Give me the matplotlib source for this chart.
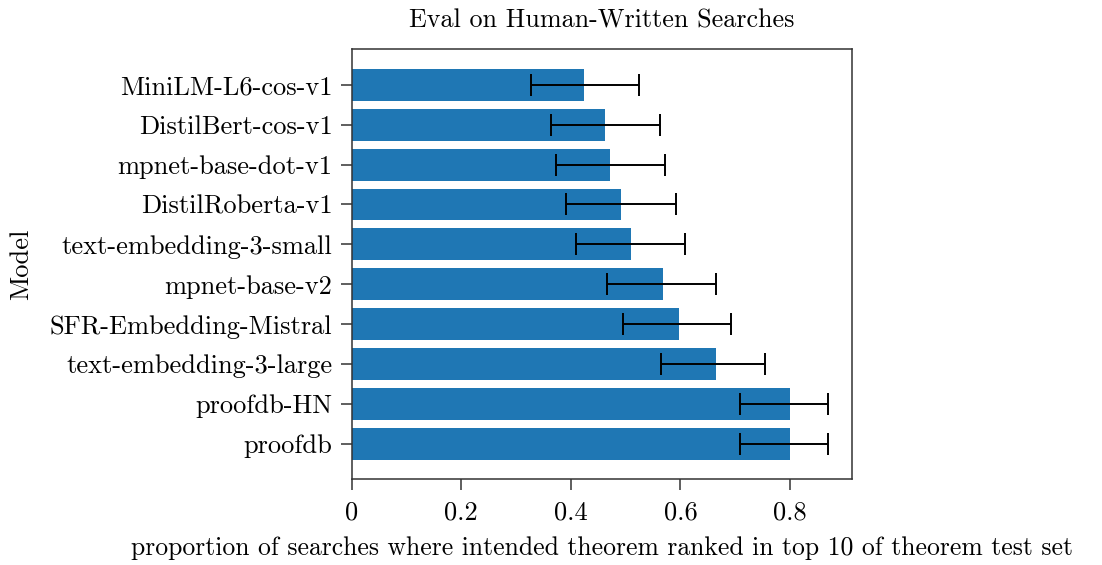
import matplotlib
matplotlib.use("Agg")
import matplotlib.pyplot as plt
import numpy as np
from matplotlib.ticker import FuncFormatter

plt.rcParams['font.family'] = ['cmr10', 'DejaVu Serif']
plt.rcParams['axes.formatter.use_mathtext'] = True
plt.rcParams['mathtext.fontset'] = 'cm'

# bottom to top
models = ['proofdb', 'proofdb-HN', 'text-embedding-3-large', 'SFR-Embedding-Mistral',
          'mpnet-base-v2', 'text-embedding-3-small', 'DistilRoberta-v1',
          'mpnet-base-dot-v1', 'DistilBert-cos-v1', 'MiniLM-L6-cos-v1']
score = [0.800, 0.800, 0.664, 0.597, 0.569, 0.510, 0.491, 0.471, 0.463, 0.424]
ci_low = [0.708, 0.708, 0.564, 0.496, 0.466, 0.410, 0.392, 0.373, 0.364, 0.327]
ci_high = [0.870, 0.870, 0.754, 0.692, 0.665, 0.609, 0.591, 0.572, 0.562, 0.524]

score = np.array(score)
xerr = [score - np.array(ci_low), np.array(ci_high) - score]

fig = plt.figure(figsize=(11.02, 5.65), dpi=100)
ax = fig.add_axes([0.3191, 0.1517, 0.4543, 0.7610])

ax.barh(models, score, height=0.8, color='#1f77b4',
        xerr=xerr, error_kw=dict(ecolor='black', elinewidth=1.4, capsize=7.8, capthick=1.4))

ax.xaxis.set_major_formatter(FuncFormatter(lambda v, p: '%g' % v))
ax.tick_params(labelsize=19, length=7.8, width=1.1, color='#333333')
ax.tick_params(axis='x', pad=8)
ax.tick_params(axis='y', pad=6)
for s in ax.spines.values():
    s.set_linewidth(1.1)
    s.set_color('#333333')

ax.set_title('Eval on Human-Written Searches', fontsize=18.8, pad=16)
ax.set_xlabel('proportion of searches where intended theorem ranked in top 10 of theorem test set',
              fontsize=18.5, labelpad=8)
ax.set_ylabel('Model', fontsize=19, labelpad=12)

fig.savefig('out.png', dpi=100)
